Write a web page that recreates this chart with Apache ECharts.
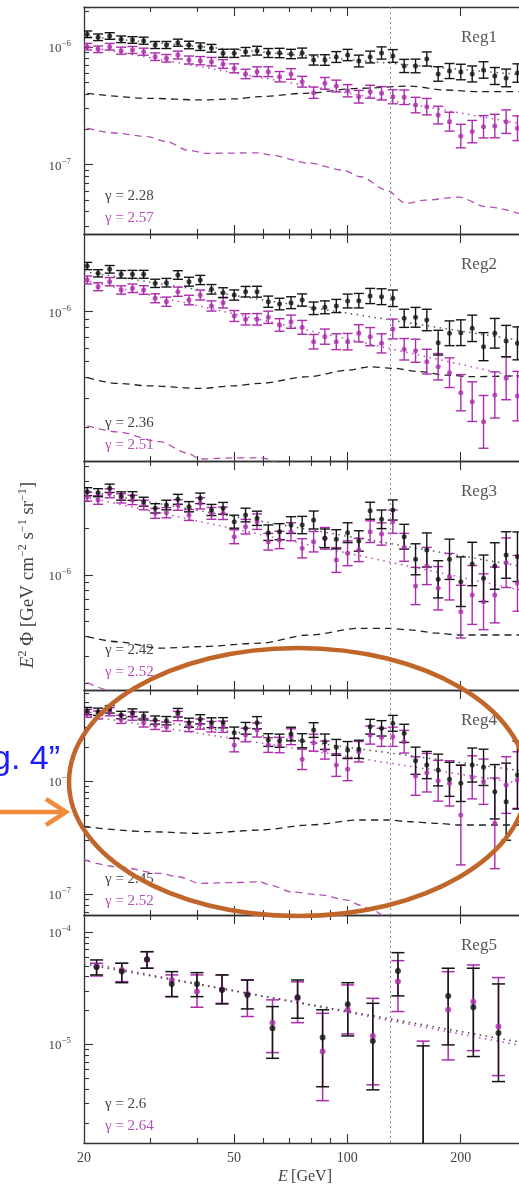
<!DOCTYPE html>
<html>
<head>
<meta charset="utf-8">
<script src="https://cdn.jsdelivr.net/npm/echarts@6/dist/echarts.min.js"></script>
<style>
  html, body { margin: 0; padding: 0; background: #fff; overflow: hidden; width: 519px; height: 1186px; }
  #chart { width: 540px; height: 1186px; }
</style>
</head>
<body>
<div id="chart"></div>
<script>
// ---- energy bins (GeV) ----
const E_BINS = [20.4, 21.8, 23.4, 25.1, 26.9, 28.8, 30.9, 33.1, 35.5, 38.0, 40.7, 43.6, 46.8, 50.1, 53.7, 57.6, 61.7, 66.1, 70.9, 75.9,
  81.4, 87.2, 93.5, 100.2, 107.3, 115.0, 123.3, 132.1, 141.6, 151.8, 162.6, 174.3, 186.8, 200.2, 214.6, 230.0, 246.4, 264.1, 283.0];
const E_REG5 = [21.6, 25.2, 29.4, 34.2, 39.9, 46.5, 54.3, 63.3, 73.8, 86.0, 100.3, 116.9, 136.3, 159.0, 185.3, 216.1, 252.0];
const LINE_ENERGY = 130;
const X_TICKS_MAJOR = [50, 100, 200];
const X_TICKS_MINOR = [30, 40, 60, 70, 80, 90];
const X_LABELS = [20.0001, 50, 100, 200];

const REGIONS = ['Reg1', 'Reg2', 'Reg3', 'Reg4', 'Reg5'];
const GAMMA_BLACK = ['2.28', '2.36', '2.42', '2.45', '2.6'];
const GAMMA_MAGENTA = ['2.57', '2.51', '2.52', '2.52', '2.64'];

// ---- Reg1 (units of 1e-7 GeV cm^-2 s^-1 sr^-1), errors in decades ----
const reg1Black = [12.82, 12.09, 12.40, 11.63, 11.47, 11.31, 10.40, 10.40, 10.88, 10.40, 10.06, 9.75, 8.84, 8.84, 9.12, 9.30, 8.89, 8.89, 8.72, 8.89,
  7.75, 7.75, 8.22, 8.55, 7.60, 8.22, 8.89, 8.39, 6.90, 6.90, 7.91, 5.90, 6.25, 6.13, 5.90, 6.38, 5.67, 5.46, 6.01];
const reg1BlackErr = [0.028, 0.028, 0.028, 0.028, 0.028, 0.03, 0.03, 0.03, 0.03, 0.032, 0.032, 0.033, 0.034, 0.035, 0.036, 0.037, 0.038, 0.04, 0.04, 0.042,
  0.043, 0.045, 0.046, 0.048, 0.05, 0.05, 0.052, 0.054, 0.056, 0.058, 0.06, 0.062, 0.064, 0.066, 0.068, 0.07, 0.072, 0.075, 0.078];
const reg1Magenta = [10.06, 9.56, 10.06, 9.30, 9.43, 9.12, 8.27, 8.02, 8.55, 7.75, 7.65, 7.50, 7.17, 6.59, 5.90, 6.17, 6.17, 5.59, 5.90, 5.07,
  4.09, 4.91, 4.66, 4.25, 3.78, 4.17, 4.04, 3.78, 3.74, 3.21, 3.11, 2.64, 2.32, 1.75, 1.91, 2.10, 2.13, 2.32, 2.04];
const reg1MagentaErr = [0.028, 0.028, 0.028, 0.03, 0.03, 0.03, 0.032, 0.032, 0.033, 0.034, 0.035, 0.036, 0.037, 0.038, 0.04, 0.041, 0.042, 0.044, 0.045, 0.046,
  0.048, 0.05, 0.05, 0.052, 0.054, 0.055, 0.057, 0.06, 0.062, 0.066, 0.07, 0.075, 0.08, 0.1, 0.095, 0.095, 0.1, 0.1, 0.105];
const reg1BgBlack = [[20.4, 4.04], [29.9, 3.66], [40.7, 3.55], [49.8, 3.62], [58.6, 3.78], [76.4, 4.04], [108.5, 4.46], [147, 4.65], [182, 4.31], [224, 4.17], [300, 4.17]];
const reg1BgMagenta = [[20.4, 2.04], [24.5, 1.85], [29.4, 1.73], [33.2, 1.57], [37.6, 1.33], [42.3, 1.25], [58.6, 1.26], [62.2, 1.21], [79.2, 1.03],
  [97.3, 0.90], [108.5, 0.79], [127, 0.61], [143, 0.47], [161, 0.50], [198, 0.53], [233, 0.44], [300, 0.37]];
const reg1FitBlack = [[20, 12.3], [300, 5.76]];
const reg1FitMagenta = [[20, 10.2], [300, 2.18]];

// ---- Reg2 (1e-7) ----
const reg2Black = [18.92, 17.09, 18.07, 16.85, 16.85, 16.85, 14.86, 14.99, 16.69, 15.20, 15.57, 13.67, 13.04, 12.62, 13.22, 13.22, 11.50, 11.13, 11.34, 11.77,
  10.49, 10.63, 10.83, 11.61, 11.66, 12.45, 12.33, 12.06, 9.12, 9.25, 8.91, 6.49, 7.40, 7.46, 7.93, 6.14, 7.40, 6.64, 6.43];
const reg2BlackErr = [0.022, 0.022, 0.023, 0.023, 0.024, 0.024, 0.025, 0.026, 0.026, 0.027, 0.028, 0.029, 0.03, 0.031, 0.032, 0.033, 0.034, 0.035, 0.036, 0.037,
  0.038, 0.039, 0.04, 0.042, 0.044, 0.046, 0.048, 0.05, 0.055, 0.06, 0.065, 0.075, 0.075, 0.078, 0.08, 0.085, 0.09, 0.095, 0.1];
const reg2Magenta = [15.57, 14.17, 15.20, 13.54, 13.86, 13.54, 12.06, 11.50, 13.22, 11.77, 12.62, 10.83, 11.34, 9.42, 8.99, 8.99, 9.25, 8.31, 8.70, 8.04,
  6.58, 7.06, 6.58, 6.58, 7.40, 7.06, 6.43, 7.86, 5.92, 5.80, 4.98, 4.64, 4.27, 3.23, 2.85, 2.15, 3.13, 3.95, 3.08];
const reg2MagentaErr = [0.024, 0.024, 0.025, 0.025, 0.026, 0.026, 0.027, 0.028, 0.028, 0.029, 0.03, 0.031, 0.032, 0.033, 0.034, 0.035, 0.037, 0.038, 0.04, 0.042,
  0.044, 0.046, 0.048, 0.05, 0.052, 0.055, 0.058, 0.06, 0.065, 0.07, 0.075, 0.08, 0.09, 0.11, 0.12, 0.16, 0.14, 0.13, 0.15];
const reg2BgBlack = [[20.4, 3.98], [24.5, 3.68], [29.9, 3.55], [40.7, 3.43], [49.8, 3.55], [58.6, 3.68], [78.7, 4.04], [101, 4.43], [114.6, 4.64],
  [132.5, 4.54], [155.6, 4.33], [183, 4.13], [214, 4.04], [300, 4.10]];
const reg2BgMagenta = [[20.4, 2.03], [24.5, 1.87], [31.8, 1.63], [37.6, 1.39], [40.7, 1.28], [49.8, 1.30], [58.6, 1.30], [80, 1.0], [110, 0.8],
  [130, 0.6], [160, 0.5], [200, 0.5], [300, 0.4]];
const reg2FitBlack = [[20, 17.5], [300, 6.60]];
const reg2FitMagenta = [[20, 15.5], [300, 3.90]];

// ---- Reg3 (1e-7) ----
const reg3Black = [34.46, 33.96, 36.26, 32.33, 32.33, 29.71, 26.93, 28.29, 30.79, 27.58, 31.24, 26.27, 26.93, 22.08, 24.38, 23.22, 18.75, 19.03, 21.01, 21.01,
  22.64, 17.25, 17.00, 18.75, 16.58, 25.99, 22.87, 26.27, 17.66, 12.63, 14.50, 9.38, 12.63, 9.05, 11.78, 9.52, 11.43, 13.46, 13.12];
const reg3BlackErr = [0.026, 0.026, 0.027, 0.027, 0.028, 0.029, 0.03, 0.031, 0.032, 0.033, 0.034, 0.036, 0.038, 0.042, 0.044, 0.046, 0.05, 0.052, 0.054, 0.056,
  0.058, 0.06, 0.062, 0.064, 0.066, 0.055, 0.06, 0.065, 0.08, 0.1, 0.11, 0.12, 0.13, 0.16, 0.14, 0.15, 0.15, 0.15, 0.16];
const reg3Magenta = [32.00, 30.48, 33.67, 31.24, 30.48, 28.29, 25.00, 25.23, 28.29, 24.38, 29.01, 25.00, 25.00, 17.66, 20.49, 22.08, 16.40, 16.82, 19.03, 14.87,
  16.40, 17.25, 12.50, 13.80, 14.50, 19.03, 18.39, 22.08, 15.09, 8.49, 11.43, 8.21, 9.75, 5.80, 7.43, 6.72, 7.43, 12.00, 8.84];
const reg3MagentaErr = [0.028, 0.028, 0.029, 0.03, 0.03, 0.031, 0.032, 0.033, 0.034, 0.035, 0.036, 0.038, 0.04, 0.045, 0.047, 0.05, 0.054, 0.056, 0.058, 0.062,
  0.066, 0.07, 0.08, 0.08, 0.075, 0.07, 0.072, 0.075, 0.09, 0.12, 0.12, 0.14, 0.15, 0.17, 0.19, 0.18, 0.18, 0.16, 0.18];
const reg3BgBlack = [[20.4, 4.00], [24.5, 3.71], [31.8, 3.37], [40.7, 3.45], [58.6, 3.63], [78.7, 4.10], [108.5, 4.53], [127.6, 4.53], [147, 4.42],
  [173.7, 4.21], [198, 4.10], [243, 4.10], [300, 4.10]];
const reg3BgMagenta = [[20.4, 2.02], [24.5, 1.75], [31.8, 1.53], [40.7, 1.25], [58.6, 1.29], [80, 1.0], [110, 0.8], [130, 0.6], [300, 0.4]];
const reg3FitBlack = [[20, 35], [300, 11.22]];
const reg3FitMagenta = [[20, 32], [300, 7.83]];

// ---- Reg4 (1e-7) ----
const reg4Black = [41.47, 40.90, 42.93, 38.23, 40.07, 37.47, 34.55, 34.06, 40.07, 32.71, 35.05, 32.71, 32.71, 26.69, 29.18, 32.71, 23.01, 22.69, 25.99, 22.69,
  28.19, 22.23, 19.83, 18.77, 19.05, 30.15, 29.18, 32.30, 26.36, 15.10, 13.84, 12.51, 10.35, 9.54, 13.84, 13.21, 8.04, 6.57, 11.29];
const reg4BlackErr = [0.032, 0.032, 0.033, 0.033, 0.034, 0.035, 0.036, 0.037, 0.038, 0.04, 0.041, 0.043, 0.045, 0.05, 0.052, 0.054, 0.056, 0.058, 0.06, 0.062,
  0.065, 0.068, 0.07, 0.075, 0.08, 0.065, 0.068, 0.07, 0.08, 0.12, 0.12, 0.14, 0.15, 0.16, 0.15, 0.16, 0.24, 0.34, 0.3];
const reg4Magenta = [39.58, 38.23, 40.90, 35.05, 37.47, 32.71, 31.20, 30.15, 37.47, 30.15, 31.84, 30.15, 30.15, 20.78, 25.47, 28.19, 20.78, 20.78, 24.60, 15.54,
  21.78, 18.77, 13.84, 12.68, 18.14, 25.47, 24.31, 24.60, 22.23, 11.07, 11.84, 10.06, 9.54, 5.01, 10.78, 9.86, 4.23, 9.22, 10.2];
const reg4MagentaErr = [0.035, 0.035, 0.036, 0.036, 0.037, 0.038, 0.039, 0.04, 0.041, 0.043, 0.045, 0.047, 0.05, 0.06, 0.06, 0.062, 0.065, 0.068, 0.07, 0.09,
  0.075, 0.08, 0.1, 0.1, 0.09, 0.08, 0.08, 0.085, 0.1, 0.17, 0.17, 0.18, 0.2, 0.44, 0.19, 0.2, 0.4, 0.25, 0.25];
const reg4BgBlack = [[20, 3.95], [29.9, 3.57], [40.7, 3.45], [58.6, 3.69], [78.7, 4.09], [108.5, 4.53], [128, 4.53], [147, 4.37], [173.7, 4.23],
  [198, 4.09], [243, 4.09], [300, 4.09]];
const reg4BgMagenta = [[20, 2.01], [24.5, 1.75], [31.8, 1.53], [35.6, 1.43], [40.7, 1.25], [49.8, 1.27], [58.6, 1.29], [62.2, 1.21], [71.3, 1.05],
  [84.3, 0.99], [100, 0.89], [108.5, 0.80], [116, 0.73], [130, 0.6], [160, 0.5], [200, 0.52], [300, 0.4]];
const reg4FitBlack = [[20, 41], [300, 12.13]];
const reg4FitMagenta = [[20, 38], [300, 9.30]];

// ---- Reg5 (units of 1e-5), explicit error-bar ends ----
const reg5Black = [4.86, 4.44, 5.72, 3.45, 3.45, 3.05, 2.75, 1.39, 2.63, 1.15, 2.28, 1.07, 4.50, null, 2.70, 2.14, 1.26];
const reg5BlackLo = [4.15, 3.54, 4.76, 2.66, 2.66, 2.29, 2.07, 0.752, 1.71, 0.42, 1.19, 0.394, 2.70, null, 0.99, 0.78, 0.467];
const reg5BlackHi = [5.64, 5.27, 6.68, 4.44, 4.35, 4.15, 3.74, 2.17, 3.74, 2.03, 3.54, 2.32, 6.55, 0.97, 4.76, 4.76, 3.45];
const reg5Magenta = [4.99, 4.59, 5.64, 3.74, 2.95, 3.10, 2.81, 1.56, 2.57, 0.863, 2.03, 1.19, 3.62, null, 2.03, 2.40, 1.44];
const reg5MagentaLo = [4.06, 3.62, 4.76, 2.66, 2.14, 2.32, 1.77, 0.845, 1.56, 0.316, 1.24, 0.437, 1.96, null, 0.728, 0.88, 0.528];
const reg5MagentaHi = [5.27, 5.27, 6.68, 4.15, 4.15, 4.15, 3.74, 2.49, 3.60, 1.89, 3.38, 2.57, 5.56, 1.07, 4.44, 5.09, 3.93];
const reg5FitBlack = [[20, 5.2], [300, 1.02]];
const reg5FitMagenta = [[20, 5.4], [300, 0.954]];

// ---- panel layout ----
const PANEL_TOP = [7, 234, 461, 690, 915];
const PANEL_H = [227, 227, 229, 225, 228];
const Y_RANGE = [[2.577e-8, 2.187e-6], [1.245e-7, 2.958e-6], [1.811e-7, 5.44e-6], [6.57e-8, 6.36e-6], [1.327e-6, 1.416e-4]];
const UNIT = [1e-7, 1e-7, 1e-7, 1e-7, 1e-5];

const BLACK = '#151515';
const MAGENTA = '#ac2cac';
const MAGENTA_LIGHT = '#b44fb4';
const AXIS = '#333';
const SERIF = '"Liberation Serif", "DejaVu Serif", serif';

const grids = [], xAxes = [], yAxes = [], series = [];

function decadeTicks(min, max) {
  const major = [], minor = [];
  for (let n = Math.floor(Math.log10(min)); n <= Math.ceil(Math.log10(max)); n++) {
    for (let k = 1; k < 10; k++) {
      const v = k * Math.pow(10, n);
      if (v >= min && v <= max) (k === 1 ? major : minor).push(v);
    }
  }
  return { major, minor };
}

const supRich = {
  b: { fontFamily: SERIF, fontSize: 13, color: '#444', lineHeight: 16, verticalAlign: 'bottom' },
  s: { fontFamily: SERIF, fontSize: 9, color: '#444', lineHeight: 9, verticalAlign: 'top' }
};

function xAxis(p, pos, ticks, len, withLine, withLabels) {
  return {
    type: 'log', logBase: 10, min: 20, max: 300, gridIndex: p, position: pos,
    splitLine: { show: false },
    axisLine: { show: withLine, onZero: false, lineStyle: { color: AXIS, width: 1.3 } },
    axisTick: { show: true, inside: true, length: len, customValues: ticks, lineStyle: { color: AXIS, width: 1.1 } },
    axisLabel: withLabels ? {
      show: true, customValues: X_LABELS, formatter: v => String(Math.round(v)),
      margin: 8, color: '#444', fontFamily: SERIF, fontSize: 14
    } : { show: false }
  };
}

function yAxis(p, ticks, len, withLine, withLabels) {
  return {
    type: 'log', logBase: 10, min: Y_RANGE[p][0], max: Y_RANGE[p][1], gridIndex: p, position: 'left',
    splitLine: { show: false },
    axisLine: { show: withLine, onZero: false, lineStyle: { color: AXIS, width: 1.3 } },
    axisTick: { show: true, inside: true, length: len, customValues: ticks, lineStyle: { color: AXIS, width: 1.1 } },
    axisLabel: withLabels ? {
      show: true, customValues: ticks, margin: 13,
      formatter: v => '{b|10}{s|\u2212' + (-Math.round(Math.log10(v))) + '}',
      rich: supRich
    } : { show: false }
  };
}

function errorBars(p, items, color, capHalf, lw) {
  return {
    type: 'custom', xAxisIndex: p * 4, yAxisIndex: p * 2, clip: true, silent: true, z: 2,
    data: items, encode: { x: 0, y: [1, 2] },
    renderItem: (params, api) => {
      const e = api.value(0), lo = api.value(1), hi = api.value(2);
      const cs = params.coordSys;
      const top = api.coord([e, hi]);
      const x = top[0];
      const hasLo = isFinite(lo) && lo > 0;
      const loY = hasLo ? api.coord([e, lo])[1] : cs.y + cs.height + 2;
      const style = { stroke: color, lineWidth: lw, fill: null };
      const kids = [
        { type: 'line', shape: { x1: x, y1: top[1], x2: x, y2: loY }, style },
        { type: 'line', shape: { x1: x - capHalf, y1: top[1], x2: x + capHalf, y2: top[1] }, style }
      ];
      if (hasLo) kids.push({ type: 'line', shape: { x1: x - capHalf, y1: loY, x2: x + capHalf, y2: loY }, style });
      return { type: 'group', children: kids };
    }
  };
}

function points(p, energies, values, unit, color, size) {
  return {
    type: 'scatter', xAxisIndex: p * 4, yAxisIndex: p * 2, silent: true, z: 3,
    symbol: 'circle', symbolSize: size, itemStyle: { color },
    data: energies.map((e, i) => values[i] == null ? null : [e, values[i] * unit]).filter(d => d)
  };
}

function curve(p, pairs, unit, color, dash, width, smooth) {
  return {
    type: 'line', xAxisIndex: p * 4, yAxisIndex: p * 2, silent: true, z: 1,
    showSymbol: false, smooth: smooth, smoothMonotone: 'x',
    lineStyle: { color, type: dash, width },
    data: pairs.map(([e, v]) => [e, v * unit])
  };
}

const dense = [
  [reg1Black, reg1BlackErr, reg1Magenta, reg1MagentaErr, reg1BgBlack, reg1BgMagenta, reg1FitBlack, reg1FitMagenta],
  [reg2Black, reg2BlackErr, reg2Magenta, reg2MagentaErr, reg2BgBlack, reg2BgMagenta, reg2FitBlack, reg2FitMagenta],
  [reg3Black, reg3BlackErr, reg3Magenta, reg3MagentaErr, reg3BgBlack, reg3BgMagenta, reg3FitBlack, reg3FitMagenta],
  [reg4Black, reg4BlackErr, reg4Magenta, reg4MagentaErr, reg4BgBlack, reg4BgMagenta, reg4FitBlack, reg4FitMagenta]
];

for (let p = 0; p < 5; p++) {
  grids.push({ left: 84, width: 443, top: PANEL_TOP[p], height: PANEL_H[p] });
  xAxes.push(xAxis(p, 'bottom', X_TICKS_MAJOR, 9, true, p === 4));
  xAxes.push(xAxis(p, 'bottom', X_TICKS_MINOR, 5, false, false));
  xAxes.push(xAxis(p, 'top', X_TICKS_MAJOR, 9, true, false));
  xAxes.push(xAxis(p, 'top', X_TICKS_MINOR, 5, false, false));
  const t = decadeTicks(Y_RANGE[p][0], Y_RANGE[p][1]);
  yAxes.push(yAxis(p, t.major, 9, true, true));
  yAxes.push(yAxis(p, t.minor, 5, false, false));

  // 130 GeV marker
  series.push({
    type: 'line', xAxisIndex: p * 4, yAxisIndex: p * 2, data: [], silent: true,
    markLine: {
      silent: true, symbol: 'none', animation: false, label: { show: false },
      lineStyle: { color: '#8a8a8a', type: [2, 3], width: 1 },
      data: [{ xAxis: LINE_ENERGY }]
    }
  });

  const u = UNIT[p];
  if (p < 4) {
    const [bk, bkErr, mg, mgErr, bgB, bgM, fitB, fitM] = dense[p];
    series.push(curve(p, bgB, u, '#222', [7, 5], 1.3, 0.3));
    series.push(curve(p, bgM, u, MAGENTA_LIGHT, [7, 5], 1.3, 0.3));
    series.push(curve(p, fitM, u, MAGENTA_LIGHT, [1.5, 4.5], 1.5, false));
    series.push(curve(p, fitB, u, '#555', [1.5, 4.5], 1.5, false));
    series.push(errorBars(p, E_BINS.map((e, i) => [e, mg[i] * u * Math.pow(10, -mgErr[i]), mg[i] * u * Math.pow(10, mgErr[i])]), MAGENTA, 5, 1.4));
    series.push(points(p, E_BINS, mg, u, MAGENTA, 5));
    series.push(errorBars(p, E_BINS.map((e, i) => [e, bk[i] * u * Math.pow(10, -bkErr[i]), bk[i] * u * Math.pow(10, bkErr[i])]), BLACK, 5, 1.4));
    series.push(points(p, E_BINS, bk, u, BLACK, 5));
  } else {
    series.push(curve(p, reg5FitMagenta, u, MAGENTA_LIGHT, [1.5, 4.5], 1.6, false));
    series.push(curve(p, reg5FitBlack, u, '#444', [1.5, 4.5], 1.6, false));
    series.push(errorBars(p, E_REG5.map((e, i) => [e, reg5MagentaLo[i] == null ? null : reg5MagentaLo[i] * u, reg5MagentaHi[i] * u]), MAGENTA, 6.5, 1.5));
    series.push(points(p, E_REG5, reg5Magenta, u, MAGENTA, 6));
    series.push(errorBars(p, E_REG5.map((e, i) => [e, reg5BlackLo[i] == null ? null : reg5BlackLo[i] * u, reg5BlackHi[i] * u]), BLACK, 6.5, 1.5));
    series.push(points(p, E_REG5, reg5Black, u, BLACK, 6));
  }
}

// ---- text and annotation overlays ----
const graphics = [];
for (let p = 0; p < 5; p++) {
  graphics.push({ type: 'text', x: 461, y: PANEL_TOP[p] + 31, z: 10,
    style: { text: REGIONS[p], font: '17px ' + SERIF, fill: '#555', verticalAlign: 'middle' } });
  graphics.push({ type: 'text', x: 105, y: PANEL_TOP[p] + 189, z: 10,
    style: { text: '\u03b3 = ' + GAMMA_BLACK[p], font: '15px ' + SERIF, fill: '#444', verticalAlign: 'middle' } });
  graphics.push({ type: 'text', x: 105, y: PANEL_TOP[p] + 211, z: 10,
    style: { text: '\u03b3 = ' + GAMMA_MAGENTA[p], font: '15px ' + SERIF, fill: MAGENTA_LIGHT, verticalAlign: 'middle' } });
}
// axis titles
graphics.push({ type: 'text', x: 305, y: 1177, z: 10,
  style: { text: '{i|E} {n|[GeV]}', align: 'center', verticalAlign: 'middle',
    rich: { i: { font: 'italic 16px ' + SERIF, fill: '#444' }, n: { font: '16px ' + SERIF, fill: '#444' } } } });
graphics.push({ type: 'text', x: 27, y: 575, rotation: Math.PI / 2, z: 10,
  style: {
    text: '{i|E}{s|2}{n| \u03a6 [GeV cm}{s|\u22122}{n| s}{s|\u22121}{n| sr}{s|\u22121}{n|]}', align: 'center', verticalAlign: 'middle',
    rich: {
      i: { font: 'italic 19px ' + SERIF, fill: '#444', lineHeight: 21, verticalAlign: 'bottom' },
      n: { font: '19px ' + SERIF, fill: '#444', lineHeight: 21, verticalAlign: 'bottom' },
      s: { font: '12px ' + SERIF, fill: '#444', lineHeight: 12, verticalAlign: 'top' }
    }
  } });
// highlighted region and caption pointer
graphics.push({ type: 'ellipse', z: 20, shape: { cx: 298, cy: 782, rx: 229, ry: 134 },
  style: { fill: null, stroke: '#c0662a', lineWidth: 4.5 } });
graphics.push({ type: 'polyline', z: 20, shape: { points: [[0, 812], [64, 812]] },
  style: { stroke: '#f08a3c', lineWidth: 4.5, fill: null } });
graphics.push({ type: 'polyline', z: 20, shape: { points: [[46, 799], [66, 812], [46, 825]] },
  style: { stroke: '#f08a3c', lineWidth: 4.5, fill: null, lineJoin: 'miter' } });
graphics.push({ type: 'text', x: 60, y: 760, z: 20,
  style: { text: 'Fig. 4\u201d', font: '34px "Liberation Sans", Arial, sans-serif', fill: '#1a1aff', align: 'right', verticalAlign: 'middle' } });

const chart = echarts.init(document.getElementById('chart'), null, { renderer: 'canvas' });
chart.setOption({
  animation: false,
  backgroundColor: '#fff',
  grid: grids,
  xAxis: xAxes,
  yAxis: yAxes,
  series: series,
  graphic: graphics
});
</script>
</body>
</html>
